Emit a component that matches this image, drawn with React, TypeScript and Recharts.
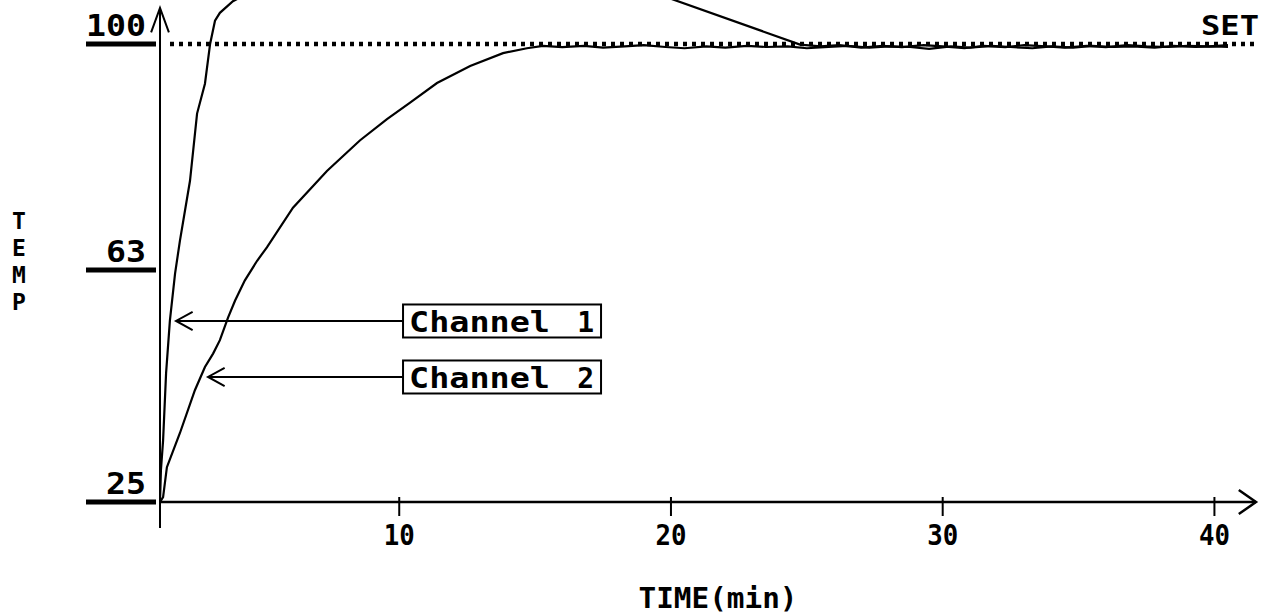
import React from 'react';
import { LineChart, Line, XAxis, YAxis, ReferenceLine } from 'recharts';

// ---- data ----
const timeTicks = [10, 20, 30, 40];
const tempTicks = [25, 63, 100];
const setPoint = 100;

const ch1Time = [1.196, 1.23, 1.31, 1.42, 1.56, 1.75, 1.93, 2.3, 2.56, 2.85, 3.04, 3.22, 3.4, 3.88, 4.9, 7.1, 10.8, 13.0, 15.0, 24.75,
  25.5, 26.2, 27.0, 27.8, 28.5, 29.3, 30.0, 30.8, 31.5, 32.3, 33.0, 33.8, 34.5, 35.3, 36.0, 36.8, 37.5, 38.3, 39.0, 39.8, 40.5];
const ch1Temp = [25, 30.2, 35.1, 46.1, 54.7, 62.4, 67.8, 77.6, 88.6, 93.5, 100.0, 103.8, 105.1, 107.0, 109.4, 112.7, 115.2, 116.2, 115.3, 99.9,
  99.6, 99.8, 99.4, 99.7, 99.5, 99.8, 99.6, 99.3, 99.7, 99.5, 99.8, 99.6, 99.4, 99.7, 99.5, 99.8, 99.6, 99.5, 99.7, 99.6, 99.8];

const ch2Time = [1.196, 1.31, 1.45, 1.93, 2.48, 2.85, 3.15, 3.4, 3.7, 3.96, 4.32, 4.77, 5.13, 6.09, 7.34, 8.55, 9.55, 10.4, 11.39, 12.61, 13.82, 14.7, 15.29,
  16.0, 16.8, 17.5, 18.3, 19.0, 19.8, 20.5, 21.3, 22.0, 22.8, 23.5, 24.3, 25.0, 25.8, 26.5, 27.3, 28.0, 28.8, 29.5, 30.3, 31.0, 31.8, 32.5, 33.3, 34.0, 34.8, 35.5, 36.3, 37.0, 37.8, 38.5, 39.3, 40.0, 40.5];
const ch2Temp = [25, 25.8, 30.7, 36.3, 43.3, 47.1, 49.3, 51.5, 55.2, 58.0, 61.3, 64.5, 66.7, 73.2, 79.2, 84.2, 87.7, 90.4, 93.6, 96.4, 98.5, 99.3, 99.7,
  99.5, 99.7, 99.4, 99.6, 99.8, 99.5, 99.3, 99.6, 99.4, 99.7, 99.5, 99.6, 99.3, 99.5, 99.7, 99.4, 99.6, 99.5, 99.2, 99.6, 99.4, 99.7, 99.5, 99.3, 99.6, 99.4, 99.7, 99.5, 99.6, 99.4, 99.7, 99.5, 99.6, 99.5];

const channelNames = ['Channel', 'Channel'];
const channelNumbers = ['1', '2'];
const channelArrowTemp = [54.64, 45.47];
const channelArrowTipTime = [1.785, 2.963];
const channelBoxTime = [10.14, 10.14];

const ch1Data = ch1Time.map((t, i) => ({ t, v: ch1Temp[i] }));
const ch2Data = ch2Time.map((t, i) => ({ t, v: ch2Temp[i] }));

const X_MIN = 1.196;
const X_MAX = 41.53;
const Y_MIN = 25;
const Y_MAX = 107.2;

const FONT = '"DejaVu Sans Mono", "Liberation Mono", monospace';

function arrowHead(x1: number, y1: number, x2: number, y2: number, len: number, halfDeg: number) {
  const ang = Math.atan2(y1 - y2, x1 - x2);
  const a = (halfDeg * Math.PI) / 180;
  const p1 = [x2 + len * Math.cos(ang + a), y2 + len * Math.sin(ang + a)];
  const p2 = [x2 + len * Math.cos(ang - a), y2 + len * Math.sin(ang - a)];
  return `${p1[0]},${p1[1]} ${x2},${y2} ${p2[0]},${p2[1]}`;
}

const makeArrow = (len: number, halfDeg: number, width: number) => (props: any) => {
  const { x1, y1, x2, y2 } = props;
  return (
    <g>
      <line x1={x1} y1={y1} x2={x2} y2={y2} stroke="#000" strokeWidth={width} />
      <polyline points={arrowHead(x1, y1, x2, y2, len, halfDeg)} fill="none" stroke="#000" strokeWidth={width} />
    </g>
  );
};

const makeChannelArrow = (name: string, num: string) => (props: any) => {
  const { x1, y1, x2, y2 } = props;
  return (
    <g>
      <line x1={x1} y1={y1} x2={x2} y2={y2} stroke="#000" strokeWidth={2} />
      <polyline points={arrowHead(x1, y1, x2, y2, 19, 29)} fill="none" stroke="#000" strokeWidth={2} />
      <rect x={x1} y={y1 - 16.5} width={198} height={33} fill="#fff" stroke="#000" strokeWidth={2} />
      <text x={x1 + 6} y={y1 + 11} fontFamily={FONT} fontWeight="bold" fontSize={28} textLength={141} lengthAdjust="spacingAndGlyphs" fill="#000">{name}</text>
      <text x={x1 + 191} y={y1 + 11} fontFamily={FONT} fontWeight="bold" fontSize={28} textAnchor="end" fill="#000">{num}</text>
    </g>
  );
};

const setShape = (props: any) => {
  const { x1, y1, x2, y2 } = props;
  return (
    <g>
      <line x1={x1} y1={y1} x2={x2} y2={y2} stroke="#000" strokeWidth={4.5} strokeDasharray="4 5" />
      <text x={x2} y={y1 - 9} fontFamily={FONT} fontWeight="bold" fontSize={27} textAnchor="end" textLength={58} lengthAdjust="spacingAndGlyphs" fill="#000">SET</text>
    </g>
  );
};

const XTick = (props: any) => {
  const { x, y, payload } = props;
  return (
    <g>
      <line x1={x} y1={y - 5} x2={x} y2={y + 14} stroke="#000" strokeWidth={2} />
      <text x={x} y={y + 43} textAnchor="middle" fontFamily={FONT} fontWeight="bold" fontSize={29} fill="#000" textLength={31} lengthAdjust="spacingAndGlyphs">{payload.value}</text>
    </g>
  );
};

const YTick = (props: any) => {
  const { x, y, payload } = props;
  const label = String(payload.value);
  return (
    <g>
      <line x1={x - 74} y1={y} x2={x - 4} y2={y} stroke="#000" strokeWidth={5} />
      <text x={x - 14} y={y - 8} textAnchor="end" fontFamily={FONT} fontWeight="bold" fontSize={30} fill="#000"
        textLength={label.length * 20} lengthAdjust="spacingAndGlyphs">{label}</text>
    </g>
  );
};

const TempLabel = (props: any) => {
  const vb = props.viewBox || { x: 0, y: 0 };
  const letters = ['T', 'E', 'M', 'P'];
  return (
    <g>
      {letters.map((c, i) => (
        <text key={c} x={vb.x + 19} y={vb.y + 229 + i * 27} textAnchor="middle" fontFamily={FONT} fontWeight="bold" fontSize={23} fill="#000">{c}</text>
      ))}
    </g>
  );
};

const TimeLabel = (props: any) => {
  const vb = props.viewBox || { x: 0, y: 0, width: 0, height: 0 };
  return (
    <text x={vb.x + vb.width / 2 + 10} y={vb.y + 106} textAnchor="middle" fontFamily={FONT} fontWeight="bold" fontSize={28}
      textLength={159} lengthAdjust="spacingAndGlyphs" fill="#000">TIME(min)</text>
  );
};

export default function App() {
  return (
    <div style={{ position: 'absolute', left: 0, top: 0, width: 1270, height: 614, background: '#fff' }}>
      <LineChart width={1270} height={614} margin={{ top: 0, right: 14, bottom: 82, left: 0 }}>
        <XAxis type="number" dataKey="t" domain={[X_MIN, X_MAX]} ticks={timeTicks} allowDataOverflow
          axisLine={false} tickLine={false} tickSize={0} tickMargin={0} height={30} tick={<XTick />} label={TimeLabel} />
        <YAxis type="number" domain={[Y_MIN, Y_MAX]} ticks={tempTicks} allowDataOverflow width={160}
          axisLine={false} tickLine={false} tickSize={0} tickMargin={0} tick={<YTick />} label={TempLabel} />
        <ReferenceLine segment={[{ x: 1.564, y: setPoint }, { x: 41.64, y: setPoint }]} ifOverflow="visible" shape={setShape} />
        <ReferenceLine segment={[{ x: X_MIN, y: Y_MIN }, { x: X_MAX, y: Y_MIN }]} ifOverflow="visible" shape={makeArrow(21, 35, 2.5)} />
        <ReferenceLine segment={[{ x: X_MIN, y: 20.74 }, { x: X_MIN, y: 105.9 }]} ifOverflow="visible" shape={makeArrow(26, 20, 2)} />
        {channelNames.map((n, i) => (
          <ReferenceLine key={i} segment={[{ x: channelBoxTime[i], y: channelArrowTemp[i] }, { x: channelArrowTipTime[i], y: channelArrowTemp[i] }]}
            ifOverflow="visible" shape={makeChannelArrow(n, channelNumbers[i])} />
        ))}
        <Line data={ch2Data} dataKey="v" type="linear" stroke="#000" strokeWidth={2.2} dot={false} isAnimationActive={false} />
        <Line data={ch1Data} dataKey="v" type="linear" stroke="#000" strokeWidth={2.2} dot={false} isAnimationActive={false} />
      </LineChart>
    </div>
  );
}
